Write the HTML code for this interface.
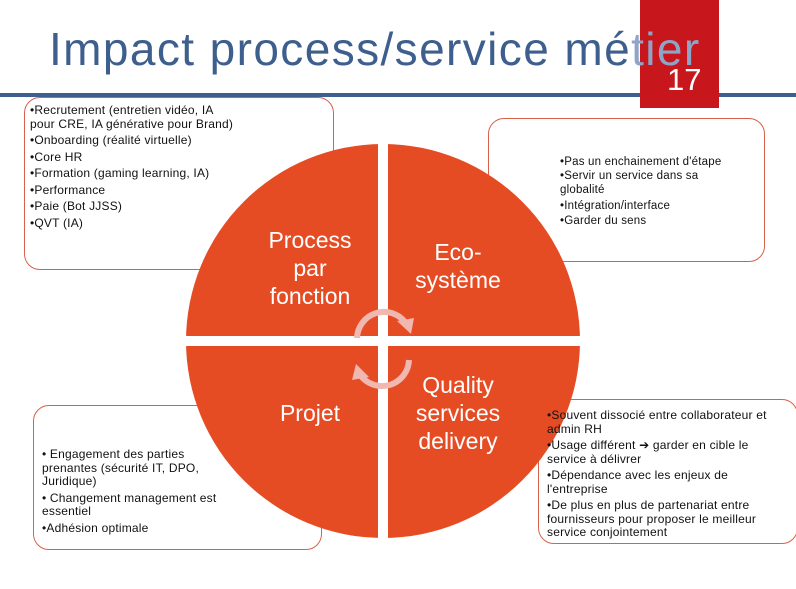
<!DOCTYPE html>
<html><head><meta charset="utf-8"><style>
body{margin:0;width:796px;height:589px;position:relative;overflow:hidden;background:#fff;font-family:"Liberation Sans",sans-serif}
.box{position:absolute;border:1px solid #d9604a;border-radius:16px;background:#fff}
.t{position:absolute;font-size:12px;line-height:13.5px;letter-spacing:0.2px;color:#111;z-index:5}
.t div{margin-bottom:3px}
.lab{position:absolute;color:#fff;font-size:23px;line-height:28px;text-align:center;z-index:4}
</style></head><body>
<div style="position:absolute;left:0;top:93px;width:796px;height:4px;background:#3d5f8f"></div>
<div style="position:absolute;left:640px;top:0;width:79px;height:108px;background:#c8161d"></div>
<div style="position:absolute;left:667px;top:62px;font-size:31px;color:#fff">17</div>
<div style="position:absolute;left:49px;top:22px;font-size:46px;color:#3e5f8e;letter-spacing:1.4px;white-space:nowrap">Impact process/service mé<span style="color:#8fa5c8">tier</span></div>

<div class="box" style="left:24px;top:97px;width:308px;height:171px"></div>
<div class="box" style="left:488px;top:118px;width:275px;height:142px"></div>
<div class="box" style="left:33px;top:405px;width:287px;height:143px"></div>
<div class="box" style="left:538px;top:399px;width:258px;height:143px"></div>

<svg style="position:absolute;left:0;top:0;z-index:3" width="796" height="589">
<defs><clipPath id="c"><circle cx="383" cy="341" r="197"/></clipPath></defs>
<g clip-path="url(#c)" fill="#e64c24">
<rect x="180" y="140" width="198" height="196"/>
<rect x="388" y="140" width="198" height="196"/>
<rect x="180" y="346" width="198" height="196"/>
<rect x="388" y="346" width="198" height="196"/>
</g>
<g fill="none" stroke="#f0b8b0" stroke-width="6">
<path d="M357 338 A27 27 0 0 1 405 322"/>
<path d="M409 360 A27 27 0 0 1 361 376"/>
</g>
<polygon points="397,321 414,318 411,334" fill="#f0b8b0"/>
<polygon points="369,377 352,380 356,364" fill="#f0b8b0"/>
</svg>

<div class="lab" style="left:250px;top:226px;width:120px">Process<br>par<br>fonction</div>
<div class="lab" style="left:398px;top:238px;width:120px">Eco-<br>système</div>
<div class="lab" style="left:250px;top:399px;width:120px">Projet</div>
<div class="lab" style="left:398px;top:371px;width:120px">Quality<br>services<br>delivery</div>

<div class="t" style="left:30px;top:104px;width:205px">
<div>•Recrutement (entretien vidéo, IA pour CRE, IA générative pour Brand)</div>
<div>•Onboarding (réalité virtuelle)</div>
<div>•Core HR</div>
<div>•Formation (gaming learning, IA)</div>
<div>•Performance</div>
<div>•Paie (Bot JJSS)</div>
<div>•QVT (IA)</div>
</div>
<div class="t" style="left:560px;top:155px;width:178px;font-size:11.5px;line-height:14px">
<div style="margin:0">•Pas un enchainement d'étape</div>
<div style="margin:0">•Servir un service dans sa globalité</div>
<div style="margin:2px 0 0">•Intégration/interface</div>
<div style="margin:1px 0 0">•Garder du sens</div>
</div>
<div class="t" style="left:42px;top:448px;width:190px">
<div>• Engagement des parties prenantes (sécurité IT, DPO, Juridique)</div>
<div>• Changement management est essentiel</div>
<div>•Adhésion optimale</div>
</div>
<div class="t" style="left:547px;top:409px;width:240px">
<div>•Souvent dissocié entre collaborateur et admin RH</div>
<div>•Usage différent ➔ garder en cible le service à délivrer</div>
<div>•Dépendance avec les enjeux de l'entreprise</div>
<div>•De plus en plus de partenariat entre fournisseurs pour proposer le meilleur service conjointement</div>
</div>
</body></html>
